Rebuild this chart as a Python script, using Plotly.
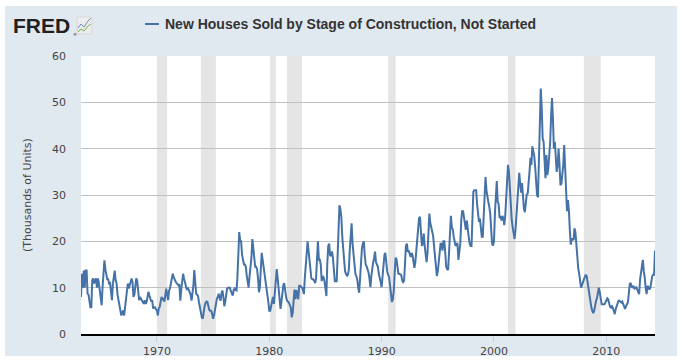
import pandas as pd
import plotly.graph_objects as go

# ---------------- data (thousands of units, monthly, from Apr 1963) ----------------
start_month = "1963-04-01"

sales_1960s = [
    8, 13, 10, 13.7, 10, 13.7, 13.7, 8.7, 8.5,                      # 1963 Apr-Dec
    7, 5.8, 5.8, 11.6, 12, 10.9, 11.6, 12, 10, 12, 11, 9.5,          # 1964
    8.7, 6.2, 10, 12.5, 15.9, 14, 12.5, 11.8, 11.8, 10.9, 11, 9.4,   # 1965
    7.3, 10.9, 12.3, 13.7, 11.6, 10.9, 8.5, 7.5, 6, 4.8, 4, 4.5,     # 1966
    5.1, 4, 5.8, 7.3, 8.7, 10.9, 9.8, 10.5, 10.9, 12, 11.2, 8,       # 1967
    8.5, 11, 12, 11.5, 10, 7.3, 8, 7.6, 7.3, 6.9, 6.5, 7.3,          # 1968
    6.5, 6.9, 7.8, 9.1, 8.3, 7.3, 7, 7.3, 5.5, 5.8, 5.8, 5.3,        # 1969
]
sales_1970s = [
    5.1, 4, 5.5, 5.8, 7, 8, 7.5, 7.6, 7, 8.8, 9.8, 8.5,
    7.3, 9.4, 9.8, 10.9, 12, 13, 12.3, 11.5, 11.3, 11, 10.8, 10.5,
    10.8, 7.2, 9.5, 12, 13, 12, 11.3, 10, 9.5, 10, 9.5, 9,
    8.5, 7.2, 8.8, 10.5, 13.8, 11, 8.7, 8.5, 8.2, 6.8, 5.5, 4.3,
    3.6, 3.3, 4.8, 6, 6.7, 7, 6.9, 5.7, 5.2, 5, 5, 4.3,
    3.3, 4, 5.5, 6.5, 7.5, 8, 8.7, 7.8, 7.2, 8.8, 9.4, 8,
    6, 7, 8.5, 9.8, 10, 10, 10, 9.3, 8.6, 8.3, 9.5, 9.8,
    9.5, 9.4, 12, 16, 22, 20, 20, 17, 15.5, 15, 15, 14.5,
    12.5, 11, 10, 12.5, 14.5, 16.5, 20.5, 18, 16, 14.5, 14.5, 14,
    12, 9, 10, 13, 17.5, 16, 14.5, 13, 12, 11, 9, 7,
]
sales_1980s = [
    5, 5, 6, 7.5, 8, 6.5, 9, 12, 14, 12, 9.6, 7,
    5.4, 7, 8.9, 10.5, 11, 9, 8, 7.2, 7, 6.8, 6.2, 5.7,
    3.6, 4.5, 7, 9.6, 7.5, 9.5, 8.5, 7.5, 10.4, 10.4, 10.2, 10,
    9.5, 8.6, 12, 15.3, 18, 20, 18, 15.5, 12.5, 12, 11.8, 11.8,
    11.5, 11, 12, 17, 20, 16, 16, 15, 11.4, 12.5, 12.2, 11.4,
    9.5, 8.2, 15, 19, 19.5, 17, 16.8, 17.8, 16.5, 13, 11.4, 11.4,
    11.4, 17, 24, 27.8, 27, 25.3, 21, 18, 14.6, 13.5, 13, 12.5,
    12.8, 13.9, 18, 22, 23.9, 19.5, 17, 14.5, 13, 12.5, 11.8, 10,
    8.9, 12, 16, 18.5, 19.5, 20, 17, 15, 14.6, 14, 13.3, 12,
    10.1, 12.5, 14.5, 15.5, 16.3, 17.8, 15.5, 15, 14.5, 13, 12.3, 11.2,
]
sales_1990s = [
    10.1, 12.5, 15, 17, 17.5, 15.2, 13.5, 12.8, 12.2, 10.5, 7.8, 6.9,
    7.5, 9.4, 13.2, 16.5, 16, 14.8, 13, 13, 12.9, 12.7, 11.5, 11.2,
    11.5, 16, 19, 19.5, 17.7, 18, 17.5, 16.6, 17.5, 17, 15.7, 14.3,
    15.5, 18, 21, 24, 25, 25.3, 20.5, 19, 19.5, 21.7, 19, 16.8,
    15.5, 17.5, 21, 26, 24, 22.8, 22.2, 21.2, 19, 17, 15.2, 12.5,
    13.5, 16, 18, 19.5, 19.5, 18, 20, 20, 17.5, 14.5, 14, 13.8,
    17.5, 23, 25.5, 23, 22.6, 21, 20, 19, 19.5, 19.5, 16, 17.5,
    19.5, 24.5, 26.5, 26.5, 25, 23.5, 22.5, 24.5, 22, 21, 19.5, 19,
    19, 24, 30.7, 31, 31, 31, 28, 24.9, 24.2, 24.9, 22, 21,
    21, 26.3, 31, 33.9, 31, 29, 28.5, 27.5, 26, 22.7, 19.5, 19.1,
]
sales_2000s = [
    20, 26, 31, 33, 28.6, 28, 25, 25.5, 24.5, 25.5, 25, 23.5,
    25.5, 29, 34.5, 36.5, 35, 30.5, 27.5, 24.5, 23, 21.3, 20.5, 22.5,
    26.3, 29.5, 33, 34.8, 32.5, 30.5, 32.6, 29, 27, 26.3, 29, 30.2,
    30.3, 34, 35, 38, 36.5, 40.5, 39.5, 38.5, 36, 32.3, 30, 29.5,
    37.5, 44.4, 53, 48.7, 42.2, 41.5, 36.4, 33.6, 38.6, 34.3, 35.7, 38,
    41.5, 47.2, 50.9, 46.5, 40, 41.5, 38.6, 35, 36.4, 40, 36.4, 32.1,
    32.5, 34, 36.5, 40.8, 36, 28, 26.5, 28.9, 26.7, 22.5, 19.3, 20.5,
    20.5, 20.3, 22.8, 22, 19.5, 15.3, 14.2, 13, 11.8, 10, 10.5, 11.4,
    11.8, 12.3, 12.8, 12.5, 11, 10, 8.6, 7, 5.7, 5, 4.5, 5,
    6.3, 7.2, 7.7, 9, 10, 9, 7.5, 6.4, 6.4, 6.4, 6.4, 6.8,
]
sales_2010s = [
    7.3, 7.7, 7.5, 6.3, 5.9, 5.7, 6.1, 5.6, 5, 4.3, 5.4, 6,
    6.5, 7.2, 7.2, 7, 6.8, 7, 6.5, 5.6, 5.4, 6, 6.5, 6.8,
    8.7, 10.8, 11, 10.2, 10.1, 10.4, 9.8, 10, 10.1, 9.6, 9, 8.6,
    11.8, 13, 15, 16, 13.5, 12.3, 10, 8.6, 10.4, 9.8, 9.6, 10,
    11.8, 12.5, 12.8, 12.8, 18,                                     # 2014 Jan-May
]

recession_starts = ["1970-01-01", "1973-12-01", "1980-02-01", "1981-08-01",
                    "1990-08-01", "2001-04-01", "2008-01-01"]
recession_ends = ["1970-12-01", "1975-04-01", "1980-08-01", "1982-12-01",
                  "1991-04-01", "2001-12-01", "2009-07-01"]

series_name = "New Houses Sold by Stage of Construction, Not Started"
y_title = "(Thousands of Units)"
y_ticks = [0, 10, 20, 30, 40, 50, 60]

values = sales_1960s + sales_1970s + sales_1980s + sales_1990s + sales_2000s + sales_2010s
dates = pd.date_range(start_month, periods=len(values), freq="MS")

# ---------------- geometry helpers (pixels -> paper) ----------------
W, H = 682, 363
L, R, T, B = 81, 655, 56, 334
pw, ph = R - L, B - T


def px(x):
    return (x - L) / pw


def py(y):
    return (B - y) / ph


LINE_COLOR = "#4572a7"
BG = "#e1e9f0"

fig = go.Figure()
fig.add_trace(go.Scatter(
    x=dates, y=values, mode="lines",
    line=dict(color=LINE_COLOR, width=2),
    name=series_name, hoverinfo="x+y",
))

shapes = [
    dict(type="rect", xref="paper", yref="paper", x0=px(5), x1=px(677), y0=py(356), y1=py(6),
         fillcolor=BG, line=dict(width=0), layer="below"),
    dict(type="rect", xref="paper", yref="paper", x0=0, x1=1, y0=0, y1=1,
         fillcolor="white", line=dict(width=0), layer="below"),
]
for s, e in zip(recession_starts, recession_ends):
    shapes.append(dict(type="rect", xref="x", yref="paper", x0=s, x1=e, y0=0, y1=1,
                       fillcolor="#e5e5e5", line=dict(width=0), layer="below"))

# legend sample line
shapes.append(dict(type="line", xref="paper", yref="paper", x0=px(145), x1=px(159),
                   y0=py(24), y1=py(24), line=dict(color=LINE_COLOR, width=2)))
# FRED icon
shapes.append(dict(type="rect", xref="paper", yref="paper", x0=px(77), x1=px(92),
                   y0=py(34), y1=py(17), fillcolor="#ececec", line=dict(color="#d8d8d8", width=1)))
shapes.append(dict(type="path", xref="paper", yref="paper",
                   path="M {} {} L {} {} L {} {} L {} {} L {} {}".format(
                       px(78), py(28), px(81), py(24), px(84), py(27), px(88), py(21), px(91), py(18)),
                   line=dict(color="#6a8fc0", width=1)))
shapes.append(dict(type="path", xref="paper", yref="paper",
                   path="M {} {} L {} {} L {} {} L {} {} L {} {}".format(
                       px(78), py(32), px(81), py(29), px(84), py(31), px(88), py(26), px(91), py(24)),
                   line=dict(color="#7cb45a", width=1)))

annotations = [
    dict(xref="paper", yref="paper", x=px(163), y=py(24), xanchor="left", yanchor="middle",
         text="<b>" + series_name + "</b>", showarrow=False,
         font=dict(family="Liberation Sans", size=14, color="#333333")),
    dict(xref="paper", yref="paper", x=px(12), y=py(25), xanchor="left", yanchor="middle",
         text="<b>FRED</b>", showarrow=False, borderpad=0,
         font=dict(family="Liberation Sans", size=21, color="#231f20")),
    dict(xref="paper", yref="paper", x=px(74.5), y=py(34), xanchor="center", yanchor="middle",
         text="®", showarrow=False, borderpad=0,
         font=dict(family="DejaVu Sans", size=4, color="#231f20")),
    dict(xref="paper", yref="paper", x=px(27), y=0.5, xanchor="center", yanchor="middle",
         text=y_title, textangle=-90, showarrow=False,
         font=dict(family="DejaVu Sans", size=11, color="#444444")),
]

fig.update_layout(
    width=W, height=H,
    margin=dict(l=L, r=W - R, t=T, b=H - B, pad=0, autoexpand=False),
    paper_bgcolor="white", plot_bgcolor="white",
    showlegend=False,
    shapes=shapes, annotations=annotations,
    font=dict(family="DejaVu Sans", size=11, color="#444444"),
    xaxis=dict(
        type="date", range=[dates[0], dates[-1]],
        tick0="1970-01-01", dtick="M120", tickformat="%Y",
        showgrid=False, zeroline=False, automargin=False,
        showline=True, linecolor="black", linewidth=2,
        ticks="outside", ticklen=6, tickcolor="#c0d0e0", tickwidth=1,
        tickfont=dict(family="DejaVu Sans", size=11, color="#444444"),
    ),
    yaxis=dict(
        range=[0, 60], tickvals=y_ticks, automargin=False,
        showgrid=True, gridcolor="#c0c0c0", gridwidth=1,
        zeroline=False, showline=False, ticks="",
        ticklabelstandoff=14,
        tickfont=dict(family="DejaVu Sans", size=11, color="#444444"),
    ),
)

fig.write_html("out.html", config={"displayModeBar": False},
               post_script="document.body.style.margin='0';document.body.style.overflow='hidden';")
